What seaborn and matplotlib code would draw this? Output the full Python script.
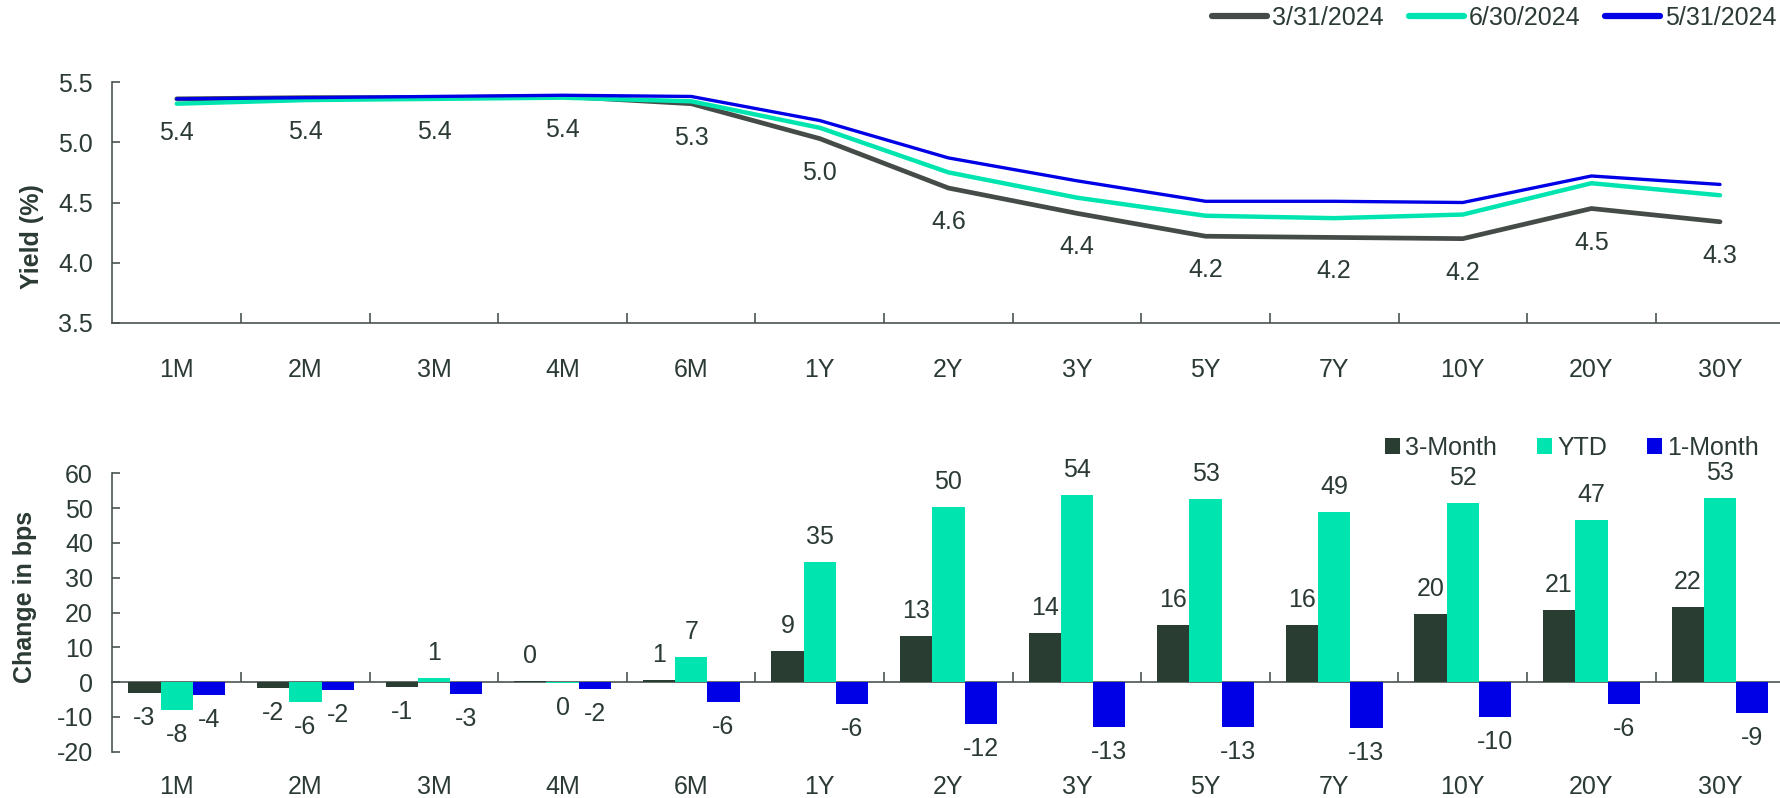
import numpy as np
import matplotlib
matplotlib.use("Agg")
import matplotlib.pyplot as plt
import seaborn as sns

# dados
tenors = ["1M", "2M", "3M", "4M", "6M", "1Y", "2Y", "3Y", "5Y", "7Y", "10Y", "20Y", "30Y"]

y_mar = [5.36, 5.37, 5.37, 5.38, 5.32, 5.03, 4.62, 4.41, 4.22, 4.21, 4.20, 4.45, 4.34]
y_jun = [5.32, 5.35, 5.36, 5.37, 5.34, 5.12, 4.75, 4.54, 4.39, 4.37, 4.40, 4.66, 4.56]
y_may = [5.36, 5.37, 5.38, 5.39, 5.38, 5.18, 4.87, 4.68, 4.51, 4.51, 4.50, 4.72, 4.65]

chg_3m = [-3.2, -1.6, -1.3, 0.2, 0.6, 8.9, 13.3, 14.0, 16.3, 16.3, 19.5, 20.6, 21.5]
chg_ytd = [-8.0, -5.7, 1.2, -0.4, 7.2, 34.6, 50.2, 53.9, 52.7, 49.0, 51.6, 46.6, 52.9]
chg_1m = [-3.8, -2.2, -3.4, -2.1, -5.7, -6.4, -11.9, -12.8, -12.9, -13.3, -10.1, -6.2, -8.8]

line_names = ["3/31/2024", "6/30/2024", "5/31/2024"]
bar_names = ["3-Month", "YTD", "1-Month"]

TXT = "#2b3a33"
C_DARKLINE = "#454c48"
C_DARKBAR = "#2a3d32"
C_TEAL = "#00e5b0"
C_BLUE = "#0000e6"
AXC = "#4a5550"

sns.set_theme(style="white")
plt.rcParams["font.family"] = ["Liberation Sans", "DejaVu Sans"]
plt.rcParams["axes.unicode_minus"] = False
plt.rcParams["text.color"] = TXT
plt.rcParams["axes.labelcolor"] = TXT
plt.rcParams["xtick.color"] = TXT
plt.rcParams["ytick.color"] = TXT
FS = 18

fig = plt.figure(figsize=(17.81, 7.98), dpi=100)
W = 1781.0
H = 798.0
left = 112.5 / W
width = 13 * 128.6 / W
ax1 = fig.add_axes([left, 475 / H, width, 241 / H])
ax2 = fig.add_axes([left, 46.3 / H, width, 278.4 / H])

x = np.arange(len(tenors))

# --- grafico de linhas ---
sns.lineplot(x=x, y=y_mar, ax=ax1, color=C_DARKLINE, lw=3.4, label=line_names[0])
sns.lineplot(x=x, y=y_jun, ax=ax1, color=C_TEAL, lw=3.2, label=line_names[1])
sns.lineplot(x=x, y=y_may, ax=ax1, color=C_BLUE, lw=2.4, label=line_names[2])
for xi, v in zip(x, y_mar):
    ax1.annotate(f"{v:.1f}", (xi, v), xytext=(0, -24.5), textcoords="offset points",
                 ha="center", va="center", fontsize=FS, color=TXT)

ax1.set_xlim(-0.5, len(tenors) - 0.5)
ax1.set_ylim(3.5, 5.5)
ax1.set_yticks([3.5, 4.0, 4.5, 5.0, 5.5])
ax1.set_yticklabels([f"{t:.1f}" for t in [3.5, 4.0, 4.5, 5.0, 5.5]])
ax1.set_xticks(x)
ax1.set_xticklabels(tenors)
ax1.set_xticks(np.arange(len(tenors) - 1) + 0.5, minor=True)
ax1.tick_params(axis="x", which="major", length=0, pad=25, labelsize=FS)
ax1.tick_params(axis="x", which="minor", direction="in", length=7, width=1.2, color=AXC, bottom=True)
ax1.tick_params(axis="y", direction="in", length=6, width=1.2, color=AXC, left=True, labelsize=FS, pad=14)
ax1.set_ylabel("Yield (%)", fontsize=FS, fontweight="bold")
ax1.yaxis.set_label_coords(-0.041, 0.357)
for s in ["top", "right"]:
    ax1.spines[s].set_visible(False)
for s in ["left", "bottom"]:
    ax1.spines[s].set_color(AXC)
    ax1.spines[s].set_linewidth(1.2)
leg1 = ax1.legend(loc="center right", bbox_to_anchor=(1778 / W, (H - 18) / H), bbox_transform=fig.transFigure,
                  ncol=3, frameon=False, fontsize=FS, handlelength=2.2, handletextpad=0.2,
                  columnspacing=1.0, borderaxespad=0, borderpad=0.05)
for h in leg1.get_lines():
    h.set_linewidth(4.5)
    h.set_solid_capstyle("round")

# --- grafico de barras ---
bw = 0.251
for k, (vals, col, nm) in enumerate(zip([chg_3m, chg_ytd, chg_1m], [C_DARKBAR, C_TEAL, C_BLUE], bar_names)):
    pos = x + (k - 1) * bw
    ax2.bar(pos, vals, width=bw, color=col, label=nm, linewidth=0)
    for p, v in zip(pos, vals):
        off = 18 if v >= 0 else -18
        ax2.annotate(f"{round(v)}", (p, v), xytext=(0, off), textcoords="offset points",
                     ha="center", va="center", fontsize=FS, color=TXT)

ax2.set_xlim(-0.5, len(tenors) - 0.5)
ax2.set_ylim(-20, 60)
ax2.set_yticks(range(-20, 61, 10))
ax2.set_xticks(x)
ax2.set_xticklabels(tenors)
ax2.tick_params(axis="x", length=0, pad=17, labelsize=FS)
ax2.tick_params(axis="y", direction="in", length=6, width=1.2, color=AXC, left=True, labelsize=FS, pad=14)
ax2.spines["bottom"].set_visible(False)
for s in ["top", "right"]:
    ax2.spines[s].set_visible(False)
ax2.spines["left"].set_color(AXC)
ax2.spines["left"].set_linewidth(1.2)

# linha do zero com marcas entre categorias
zero_ax = ax2.secondary_xaxis(0.25)
zero_ax.set_xticks(np.arange(len(tenors) - 1) + 0.5)
zero_ax.tick_params(axis="x", direction="in", length=7, width=1.2, color=AXC, labelbottom=False)
zero_ax.spines["bottom"].set_color(AXC)
zero_ax.spines["bottom"].set_linewidth(1.2)

ax2.set_ylabel("Change in bps", fontsize=FS, fontweight="bold")
ax2.yaxis.set_label_coords(-0.045, 0.557)
ax2.legend(loc="center right", bbox_to_anchor=(1760 / W, (H - 448) / H), bbox_transform=fig.transFigure,
           ncol=3, frameon=False, fontsize=FS, handlelength=0.6, handleheight=0.6,
           handletextpad=0.2, columnspacing=1.6, borderaxespad=0, borderpad=0.05)

plt.savefig("out.png", dpi=100)
plt.close()
